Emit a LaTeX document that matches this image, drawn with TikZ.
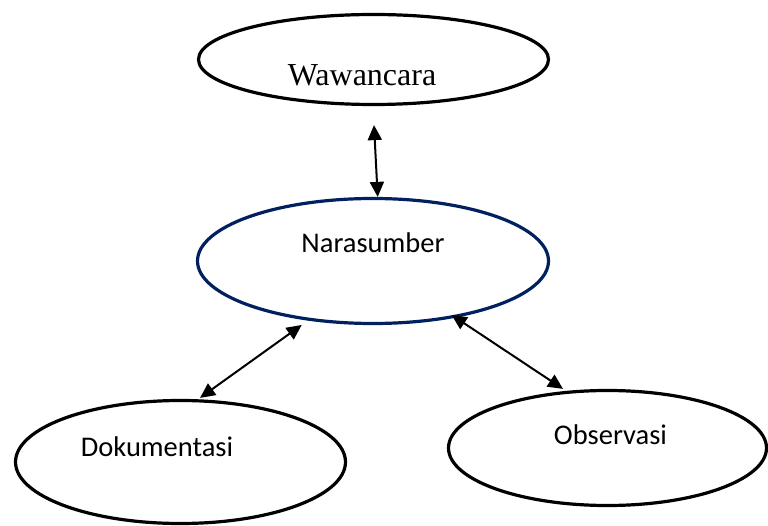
\documentclass[tikz,border=0pt]{standalone}
\usepackage{fontspec}
\usetikzlibrary{shapes.geometric,arrows.meta,calc}
\newfontfamily\wawfont{Liberation Serif}
\newfontfamily\calfont{Carlito}
\definecolor{navy}{RGB}{0,32,96}
\tikzset{
  oval/.style={ellipse, draw=black, line width=3.2pt, inner sep=0pt},
  bluoval/.style={oval, draw=navy},
  lbl/.style={anchor=base, inner sep=0pt, font=\calfont\fontsize{28.5}{30}\selectfont},
  link/.style={line width=2pt, {Triangle[length=15pt,width=14pt]}-{Triangle[length=15pt,width=14pt]}},
}
\begin{document}
\begin{tikzpicture}[x=1pt,y=-1pt]
\useasboundingbox (0,0) rectangle (768,526);
\node[oval, minimum width=350pt, minimum height=90pt] (waw) at (373.5,59.5) {};
\node[bluoval, minimum width=351pt, minimum height=125pt] (nara) at (373,261) {};
\node[oval, minimum width=330pt, minimum height=123pt] (dok) at (180.5,462) {};
\node[oval, minimum width=318pt, minimum height=115pt] (obs) at (607.5,448) {};
\node[anchor=base, inner sep=0pt, font=\wawfont\fontsize{32}{34}\selectfont] (wawT) at (362,86) {Wawancara};
\node[lbl] (naraT) at (373,252.7) {Narasumber};
\node[lbl] (dokT) at (157,456) {Dokumentasi};
\node[lbl] (obsT) at (610.5,444) {Observasi};
\coordinate (w1) at ($(waw.south)+(0.5,19)$);
\coordinate (n1) at ($(nara.north)+(4.7,0)$);
\coordinate (n2) at ($(nara.center)+(-71.3,64)$);
\coordinate (d1) at ($(dok.north)+(19.5,-1)$);
\coordinate (n3) at ($(nara.center)+(78.7,54)$);
\coordinate (o1) at ($(obs.north)+(-44.5,0)$);
\draw[link] (w1) -- (n1);
\draw[link] (n2) -- (d1);
\draw[link] (n3) -- (o1);
\end{tikzpicture}
\end{document}
